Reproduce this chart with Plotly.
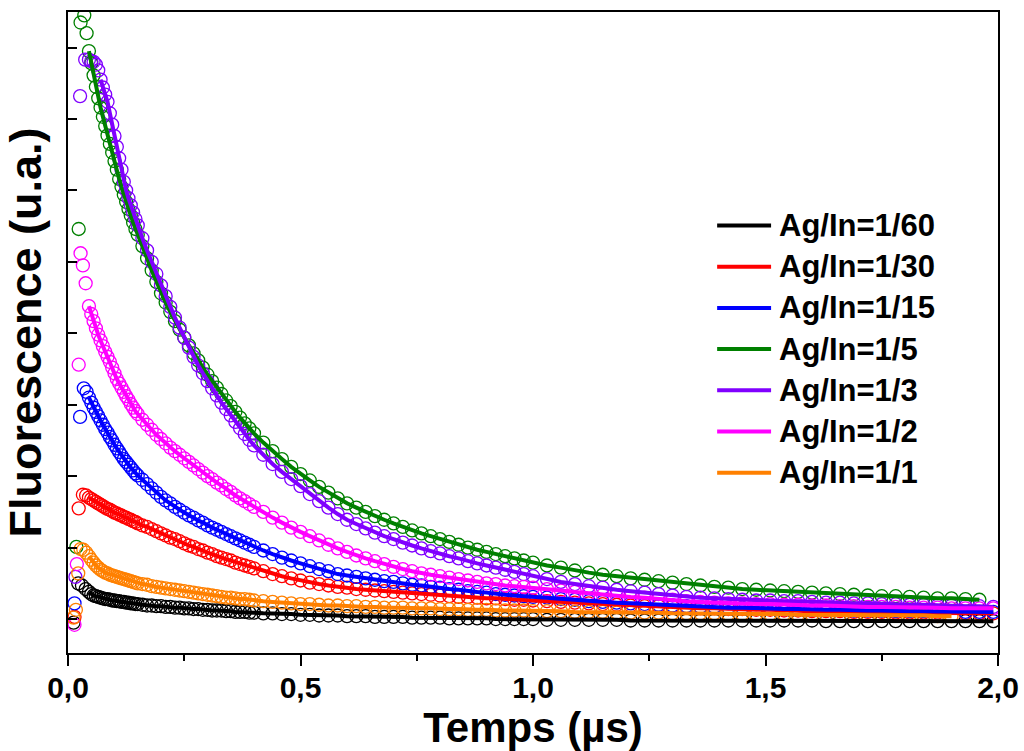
import plotly.graph_objects as go

# ---------------- data ----------------
# common time grid (µs) of the decay part
x_grid = [
    0.045, 0.05, 0.055, 0.06, 0.065, 0.07, 0.075, 0.08, 0.085, 0.09, 0.095,
    0.10, 0.105, 0.11, 0.115, 0.12, 0.125, 0.13, 0.135, 0.14, 0.145, 0.15,
    0.16, 0.17, 0.18, 0.19, 0.20, 0.21, 0.22, 0.23, 0.24, 0.25, 0.26, 0.27,
    0.28, 0.29, 0.30, 0.31, 0.32, 0.33, 0.34, 0.35, 0.36, 0.37, 0.38, 0.39, 0.40,
    0.42, 0.44, 0.46, 0.48, 0.50, 0.52, 0.54, 0.56, 0.58, 0.60, 0.62, 0.64,
    0.66, 0.68, 0.70, 0.72, 0.74, 0.76, 0.78, 0.80, 0.82, 0.84, 0.86, 0.88,
    0.90, 0.92, 0.94, 0.96, 0.98, 1.00,
    1.03, 1.06, 1.09, 1.12, 1.15, 1.18, 1.21, 1.24, 1.27, 1.30, 1.33, 1.36,
    1.39, 1.42, 1.45, 1.48, 1.51, 1.54, 1.57, 1.60, 1.63, 1.66, 1.69, 1.72,
    1.75, 1.78, 1.81, 1.84, 1.87, 1.90, 1.93, 1.96, 1.99,
]

series_names = ["Ag/In=1/60", "Ag/In=1/30", "Ag/In=1/15", "Ag/In=1/5",
                "Ag/In=1/3", "Ag/In=1/2", "Ag/In=1/1"]

y_160 = [
    0.38, 0.35, 0.33, 0.32, 0.31, 0.30, 0.29, 0.28, 0.28, 0.27, 0.26, 0.26, 0.25, 0.25, 0.24, 0.24, 0.23, 0.23, 0.22, 0.22, 0.21, 0.21,
    0.20, 0.19, 0.19, 0.18, 0.18, 0.17, 0.17, 0.16, 0.16, 0.15, 0.15, 0.14, 0.14, 0.13, 0.13, 0.12, 0.12, 0.12, 0.11, 0.11, 0.10, 0.10, 0.10, 0.09, 0.09,
    0.08, 0.08, 0.07, 0.07, 0.06, 0.06, 0.05, 0.05, 0.05, 0.04, 0.04, 0.04, 0.03, 0.03, 0.03, 0.03, 0.02, 0.02, 0.02, 0.02, 0.01, 0.01, 0.01, 0.01, 0.01, 0.00, 0.00, 0.00, 0.00, 0.00,
    -0.01, -0.01, -0.01, -0.01, -0.01, -0.01, -0.02, -0.02, -0.02, -0.02, -0.02, -0.02, -0.02, -0.02, -0.02, -0.02, -0.02, -0.02, -0.02, -0.02,
    -0.03, -0.03, -0.03, -0.03, -0.03, -0.03, -0.03, -0.03, -0.03, -0.03, -0.03, -0.03, -0.03,
]
y_130 = [
    1.70, 1.68, 1.66, 1.64, 1.62, 1.60, 1.58, 1.56, 1.54, 1.53, 1.51, 1.49, 1.48, 1.46, 1.45, 1.43, 1.42, 1.40, 1.39, 1.37, 1.36, 1.34,
    1.31, 1.29, 1.26, 1.23, 1.20, 1.17, 1.14, 1.12, 1.09, 1.06, 1.03, 1.01, 0.98, 0.96, 0.93, 0.91, 0.88, 0.86, 0.84, 0.82, 0.79, 0.77, 0.75, 0.73, 0.71,
    0.67, 0.63, 0.60, 0.57, 0.54, 0.51, 0.49, 0.47, 0.45, 0.44, 0.42, 0.41, 0.40, 0.39, 0.38, 0.37, 0.36, 0.35, 0.34, 0.33, 0.32, 0.31, 0.31, 0.30, 0.29, 0.29, 0.28, 0.27, 0.27, 0.26,
    0.25, 0.24, 0.23, 0.22, 0.21, 0.20, 0.19, 0.18, 0.18, 0.17, 0.16, 0.15, 0.15, 0.14, 0.14, 0.13, 0.13, 0.12, 0.12, 0.11, 0.11, 0.11, 0.10, 0.10,
    0.10, 0.09, 0.09, 0.09, 0.09, 0.08, 0.08, 0.08, 0.08,
]
y_115 = [
    3.10, 3.03, 2.96, 2.90, 2.84, 2.78, 2.72, 2.66, 2.61, 2.55, 2.50, 2.44, 2.39, 2.34, 2.29, 2.24, 2.20, 2.16, 2.12, 2.08, 2.04, 2.01,
    1.95, 1.89, 1.83, 1.77, 1.71, 1.66, 1.62, 1.57, 1.53, 1.49, 1.45, 1.42, 1.38, 1.35, 1.31, 1.28, 1.25, 1.22, 1.19, 1.16, 1.13, 1.10, 1.07, 1.04, 1.01,
    0.96, 0.91, 0.86, 0.82, 0.78, 0.74, 0.70, 0.67, 0.63, 0.61, 0.59, 0.57, 0.55, 0.53, 0.52, 0.50, 0.48, 0.47, 0.45, 0.44, 0.42, 0.41, 0.39, 0.38, 0.37, 0.35, 0.34, 0.33, 0.32, 0.31,
    0.30, 0.28, 0.27, 0.25, 0.24, 0.23, 0.22, 0.21, 0.20, 0.19, 0.18, 0.17, 0.17, 0.16, 0.16, 0.15, 0.15, 0.14, 0.14, 0.13, 0.13, 0.13, 0.12, 0.12,
    0.12, 0.11, 0.11, 0.11, 0.11, 0.10, 0.10, 0.10, 0.10,
]
y_15 = [
    7.95, 7.78, 7.61, 7.45, 7.29, 7.16, 7.03, 6.90, 6.77, 6.65, 6.53, 6.41, 6.29, 6.16, 6.05, 5.94, 5.84, 5.74, 5.65, 5.55, 5.46, 5.38,
    5.22, 5.05, 4.88, 4.72, 4.56, 4.43, 4.30, 4.17, 4.05, 3.94, 3.83, 3.72, 3.62, 3.52, 3.42, 3.33, 3.24, 3.15, 3.06, 2.98, 2.90, 2.82, 2.74, 2.67, 2.60,
    2.47, 2.35, 2.24, 2.13, 2.03, 1.94, 1.85, 1.77, 1.69, 1.62, 1.56, 1.50, 1.44, 1.39, 1.34, 1.29, 1.24, 1.20, 1.16, 1.12, 1.08, 1.04, 1.00, 0.97, 0.94, 0.91, 0.88, 0.85, 0.82, 0.79,
    0.75, 0.72, 0.68, 0.65, 0.62, 0.60, 0.57, 0.55, 0.53, 0.51, 0.49, 0.47, 0.45, 0.44, 0.42, 0.41, 0.40, 0.39, 0.38, 0.37, 0.36, 0.35, 0.34, 0.33,
    0.32, 0.32, 0.31, 0.30, 0.29, 0.29, 0.28, 0.27, None,
]
y_13 = [
    7.83, 7.81, 7.80, 7.76, 7.68, 7.55, 7.44, 7.34, 7.24, 7.08, 6.92, 6.76, 6.61, 6.45, 6.29, 6.12, 6.00, 5.89, 5.79, 5.69, 5.60, 5.51,
    5.33, 5.16, 5.00, 4.83, 4.67, 4.52, 4.37, 4.22, 4.08, 3.94, 3.80, 3.67, 3.55, 3.44, 3.33, 3.23, 3.13, 3.03, 2.94, 2.85, 2.76, 2.67, 2.59, 2.51, 2.43,
    2.30, 2.17, 2.06, 1.96, 1.86, 1.75, 1.65, 1.56, 1.47, 1.39, 1.33, 1.27, 1.21, 1.16, 1.12, 1.07, 1.03, 0.99, 0.95, 0.92, 0.88, 0.85, 0.81, 0.78, 0.75, 0.72, 0.69, 0.66, 0.63, 0.60,
    0.56, 0.52, 0.49, 0.46, 0.44, 0.41, 0.39, 0.37, 0.35, 0.33, 0.31, 0.30, 0.29, 0.28, 0.27, 0.26, 0.26, 0.25, 0.25, 0.24, 0.23, 0.23, 0.22, 0.22,
    0.21, 0.21, 0.20, 0.20, 0.19, 0.19, 0.18, 0.18, 0.17,
]
y_12 = [
    4.38, 4.27, 4.17, 4.07, 3.98, 3.90, 3.82, 3.74, 3.67, 3.60, 3.52, 3.44, 3.36, 3.30, 3.24, 3.18, 3.12, 3.07, 3.01, 2.96, 2.91, 2.87,
    2.79, 2.72, 2.65, 2.58, 2.52, 2.46, 2.40, 2.35, 2.30, 2.25, 2.20, 2.15, 2.10, 2.05, 2.00, 1.96, 1.91, 1.87, 1.82, 1.78, 1.73, 1.69, 1.65, 1.61, 1.57,
    1.50, 1.42, 1.35, 1.28, 1.22, 1.16, 1.10, 1.04, 0.99, 0.94, 0.89, 0.85, 0.81, 0.77, 0.73, 0.70, 0.67, 0.64, 0.62, 0.60, 0.58, 0.56, 0.54, 0.52, 0.50, 0.49, 0.47, 0.46, 0.45, 0.44,
    0.42, 0.40, 0.38, 0.36, 0.34, 0.33, 0.31, 0.30, 0.28, 0.27, 0.25, 0.24, 0.23, 0.22, 0.22, 0.21, 0.21, 0.20, 0.20, 0.19, 0.19, 0.18, 0.18, 0.17,
    0.17, 0.17, 0.16, 0.16, 0.16, 0.15, 0.15, 0.15, 0.15,
]
y_11 = [
    0.88, 0.83, 0.79, 0.75, 0.72, 0.69, 0.67, 0.65, 0.64, 0.62, 0.61, 0.60, 0.59, 0.58, 0.57, 0.56, 0.55, 0.54, 0.53, 0.52, 0.51, 0.50,
    0.49, 0.48, 0.46, 0.45, 0.44, 0.43, 0.42, 0.41, 0.40, 0.39, 0.38, 0.37, 0.36, 0.35, 0.34, 0.33, 0.32, 0.31, 0.30, 0.30, 0.29, 0.28, 0.28, 0.27, 0.26,
    0.25, 0.24, 0.23, 0.22, 0.21, 0.21, 0.20, 0.19, 0.19, 0.18, 0.18, 0.17, 0.17, 0.16, 0.16, 0.16, 0.15, 0.15, 0.15, 0.14, 0.14, 0.14, 0.13, 0.13, 0.13, 0.12, 0.12, 0.12, 0.12, 0.11,
    0.11, 0.11, 0.10, 0.10, 0.10, 0.09, 0.09, 0.09, 0.09, 0.08, 0.08, 0.08, 0.08, 0.07, 0.07, 0.07, 0.07, 0.07, 0.06, 0.06, 0.06, 0.06, 0.06, 0.05,
    0.05, 0.05, 0.05, 0.05, 0.04, 0.04, None, None, None,
]

# rising-edge points (before the maximum), markers only
rise_x_160 = [0.012, 0.022, 0.030, 0.038]
rise_y_160 = [-0.05, 0.50, 0.47, 0.42]
rise_x_130 = [0.014, 0.023, 0.032, 0.039]
rise_y_130 = [0.03, 1.55, 1.74, 1.73]
rise_x_115 = [0.014, 0.026, 0.034, 0.040]
rise_y_115 = [0.22, 2.83, 3.23, 3.18]
rise_x_15 = [0.018, 0.023, 0.027, 0.035, 0.040]
rise_y_15 = [1.01, 5.46, 8.35, 8.45, 8.20]
rise_x_13 = [0.016, 0.026, 0.037]
rise_y_13 = [0.59, 7.32, 7.83]
rise_x_12 = [0.014, 0.019, 0.023, 0.027, 0.032, 0.038]
rise_y_12 = [-0.08, 0.77, 3.56, 5.12, 4.95, 4.70]
rise_x_11 = [0.012, 0.017, 0.022, 0.027, 0.033, 0.039]
rise_y_11 = [0.02, 0.13, 0.64, 0.98, 0.97, 0.93]

# time at which each fitted curve starts
fit_start = [0.045, 0.045, 0.045, 0.045, 0.07, 0.045, 0.045]

# ---------------- styles ----------------
colors = ["#000000", "#ff0000", "#0000ff", "#008000", "#8000ff", "#ff00ff", "#ff8000"]
white_end = [False, False, False, True, False, False, True]
FONT = "Liberation Sans, Arial, Helvetica, sans-serif"

decays = [y_160, y_130, y_115, y_15, y_13, y_12, y_11]
rises_x = [rise_x_160, rise_x_130, rise_x_115, rise_x_15, rise_x_13, rise_x_12, rise_x_11]
rises_y = [rise_y_160, rise_y_130, rise_y_115, rise_y_15, rise_y_13, rise_y_12, rise_y_11]

fig = go.Figure()

# measured points (open circles)
for name, col, rx, ry, yd, wend in zip(series_names, colors, rises_x, rises_y, decays, white_end):
    mx = rx + x_grid
    my = ry + yd
    fills = ["rgba(0,0,0,0)"] * len(mx)
    if wend:
        last = max(i for i, v in enumerate(my) if v is not None)
        fills[last] = "white"
    fig.add_trace(go.Scatter(
        x=mx, y=my, mode="markers", name=name + " (data)", showlegend=False,
        marker=dict(symbol="circle", size=13, color=fills,
                    line=dict(color=col, width=1.3)),
        hoverinfo="skip",
    ))

# fitted curves (thick lines)
for name, col, yd, xs in zip(series_names, colors, decays, fit_start):
    idx = [i for i, (xv, yv) in enumerate(zip(x_grid, yd)) if xv >= xs - 1e-9 and yv is not None]
    fig.add_trace(go.Scatter(
        x=[x_grid[i] for i in idx], y=[yd[i] for i in idx], mode="lines",
        name=name, showlegend=False, line=dict(color=col, width=4),
    ))

# legend drawn as line samples + text (paper coordinates)
leg_x0, leg_x1, leg_tx = 0.698, 0.756, 0.762
leg_top, leg_step = 0.667, 0.0643
for k, (name, col) in enumerate(zip(series_names, colors)):
    yy = leg_top - k * leg_step
    fig.add_shape(type="line", xref="paper", yref="paper", x0=leg_x0, x1=leg_x1,
                  y0=yy, y1=yy, line=dict(color=col, width=4))
    fig.add_annotation(xref="paper", yref="paper", x=leg_tx, y=yy, text=name,
                       showarrow=False, xanchor="left", yanchor="middle",
                       font=dict(family=FONT, size=31, color="black", weight="bold"))

fig.update_layout(
    width=1024, height=751,
    margin=dict(l=68, r=26, t=12, b=98, pad=0, autoexpand=False),
    paper_bgcolor="white", plot_bgcolor="white",
    separators=", ",
    font=dict(family=FONT, color="black"),
    showlegend=False,
)
fig.update_xaxes(
    range=[0, 2], tick0=0, dtick=0.5, tickformat=".1f", automargin=False,
    ticks="outside", ticklen=11, tickwidth=2, tickcolor="black",
    ticklabelstandoff=-4,
    showline=True, linewidth=2, linecolor="black", mirror=True,
    showgrid=False, zeroline=False,
    tickfont=dict(family=FONT, size=30, color="black", weight="bold"),
    minor=dict(dtick=0.25, ticks="outside", ticklen=6, tickwidth=2,
               tickcolor="black", showgrid=False),
    title=dict(text="Temps (µs)", standoff=9,
               font=dict(family=FONT, size=42, color="black", weight="bold")),
)
fig.update_yaxes(
    range=[-0.475, 8.497], tick0=0, dtick=1, automargin=False,
    ticks="inside", ticklen=9, tickwidth=2, tickcolor="black",
    showticklabels=False,
    showline=True, linewidth=2, linecolor="black", mirror=True,
    showgrid=False, zeroline=False,
    title=dict(text="Fluorescence (u.a.)", standoff=12,
               font=dict(family=FONT, size=45, color="black", weight="bold")),
)

fig.write_html("out.html", config={"displayModeBar": False},
               post_script="document.body.style.margin='0';")
